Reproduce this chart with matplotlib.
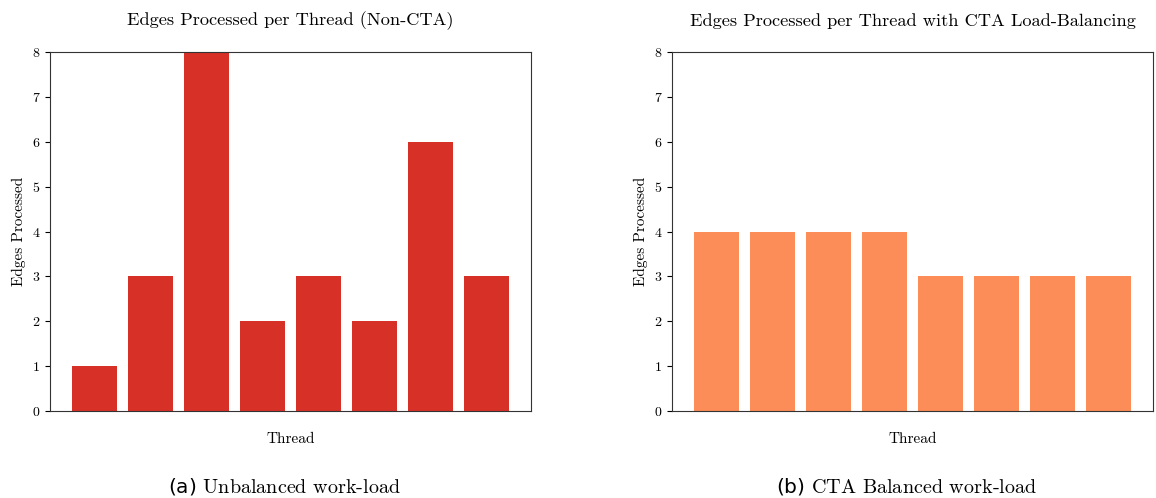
import matplotlib
matplotlib.use("Agg")
import matplotlib.pyplot as plt

threads = list(range(8))
edges_non_cta = [1, 3, 8, 2, 3, 2, 6, 3]
edges_cta = [4, 4, 4, 4, 3, 3, 3, 3]
yticks = [0, 1, 2, 3, 4, 5, 6, 7, 8]

plt.rcParams['font.family'] = ['cmr10', 'DejaVu Sans']
plt.rcParams['axes.formatter.use_mathtext'] = True
plt.rcParams['mathtext.fontset'] = 'custom'
plt.rcParams['mathtext.sf'] = 'DejaVu Sans'
plt.rcParams['mathtext.rm'] = 'cmr10'

W, H = 1156, 498
fig = plt.figure(figsize=(W/100, H/100), dpi=100)
ax1 = fig.add_axes([50/W, 1-411/H, 481/W, (411-52)/H])
ax2 = fig.add_axes([672/W, 1-411/H, 481/W, (411-52)/H])

specs = [
    (ax1, edges_non_cta, '#d73027', 'Edges Processed per Thread (Non-CTA)', r'$\mathsf{(a)}$ Unbalanced work-load'),
    (ax2, edges_cta, '#fc8d59', 'Edges Processed per Thread with CTA Load-Balancing', r'$\mathsf{(b)}$ CTA Balanced work-load'),
]
for ax, vals, col, title, cap in specs:
    ax.bar(threads, vals, width=0.8, color=col)
    ax.set_ylim(0, 8)
    ax.set_yticks(yticks)
    ax.set_xticks([])
    ax.tick_params(axis='y', labelsize=10)
    ax.set_title(title, fontsize=13.2, pad=19)
    ax.set_xlabel('Thread', fontsize=11, labelpad=15)
    ax.set_ylabel('Edges Processed', fontsize=11)
    for s in ax.spines.values():
        s.set_color('#333333')
    pos = ax.get_position()
    fig.text((pos.x0 + pos.x1) / 2 - 6/W, 1/H, cap, ha='center', va='bottom', fontsize=14.5)

fig.savefig('out.png', dpi=100)
